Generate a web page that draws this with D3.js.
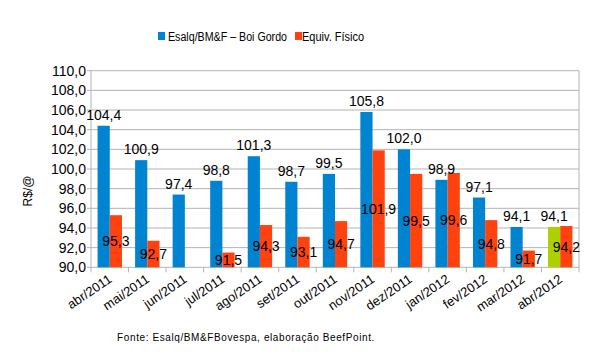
<!DOCTYPE html>
<html><head><meta charset="utf-8">
<script src="https://cdn.jsdelivr.net/npm/d3@7"></script>
<style>body{margin:0;background:#fff}svg{display:block}text{font-family:"Liberation Sans",Arial,sans-serif}</style>
</head><body><svg id="c" width="604" height="363"></svg>
<script>
const categories = ["abr/2011","mai/2011","jun/2011","jul/2011","ago/2011","set/2011","out/2011","nov/2011","dez/2011","jan/2012","fev/2012","mar/2012","abr/2012"];
const boiGordo = [104.4,100.9,97.4,98.8,101.3,98.7,99.5,105.8,102.0,98.9,97.1,94.1,94.1];
const equivFisico = [95.3,92.7,null,91.5,94.3,93.1,94.7,101.9,99.5,99.6,94.8,91.7,94.2];
const yTicks = [90,92,94,96,98,100,102,104,106,108,110];
const seriesNames = ["Esalq/BM&F – Boi Gordo","Equiv. Físico"];

const svg = d3.select("#c");
const L=91, R=579, T=70.7, B=267.3;
const fmt = v => d3.format(".1f")(v).replace(".", ",");
const x = d3.scaleBand().domain(categories).range([L,R]).paddingInner(0).paddingOuter(0);
const y = d3.scaleLinear().domain([90,110]).range([B,T]);
const bw = 12.2;
const blue="#0084d1", orange="#ff420e", green="#aecf00";

// grid
svg.append("g").selectAll("line").data(yTicks).join("line")
  .attr("x1",L-4).attr("x2",R).attr("y1",d=>y(d)).attr("y2",d=>y(d))
  .attr("stroke","#b3b3b3").attr("stroke-width",1);
svg.append("line").attr("x1",L).attr("x2",L).attr("y1",T).attr("y2",B+5).attr("stroke","#b3b3b3");
svg.append("line").attr("x1",R).attr("x2",R).attr("y1",T).attr("y2",B+5).attr("stroke","#b3b3b3");
svg.append("g").selectAll("line").data(categories.slice(1)).join("line")
  .attr("x1",d=>x(d)).attr("x2",d=>x(d)).attr("y1",B).attr("y2",B+5).attr("stroke","#b3b3b3");

// y labels
svg.append("g").selectAll("text").data(yTicks).join("text")
  .attr("x",86).attr("y",d=>y(d)+5).attr("text-anchor","end")
  .attr("font-size",14).attr("fill","#000").text(d=>fmt(d));

svg.append("text").attr("transform","translate(32,191) rotate(-90)")
  .attr("text-anchor","middle").attr("font-size",12).text("R$/@");

// bars
const cx = d => x(d)+x.bandwidth()/2;
svg.append("g").selectAll("rect").data(categories).join("rect")
  .attr("x",d=>cx(d)-bw).attr("width",bw)
  .attr("y",(d,i)=>y(boiGordo[i])).attr("height",(d,i)=>B-y(boiGordo[i]))
  .attr("fill",(d,i)=>i===categories.length-1?green:blue);
svg.append("g").selectAll("rect").data(categories.filter((d,i)=>equivFisico[i]!=null)).join("rect")
  .attr("x",d=>cx(d)).attr("width",bw)
  .attr("y",d=>y(equivFisico[categories.indexOf(d)]))
  .attr("height",d=>B-y(equivFisico[categories.indexOf(d)]))
  .attr("fill",orange);

// labels
svg.append("g").selectAll("text").data(categories).join("text")
  .attr("x",d=>cx(d)-bw/2).attr("y",(d,i)=>y(boiGordo[i])-6)
  .attr("text-anchor","middle").attr("font-size",14).text((d,i)=>fmt(boiGordo[i]));
svg.append("g").selectAll("text").data(categories.filter((d,i)=>equivFisico[i]!=null)).join("text")
  .attr("x",d=>cx(d)+bw/2)
  .attr("y",d=>(y(equivFisico[categories.indexOf(d)])+B)/2+5)
  .attr("text-anchor","middle").attr("font-size",14).text(d=>fmt(equivFisico[categories.indexOf(d)]));

// x labels
svg.append("g").selectAll("text").data(categories).join("text")
  .attr("transform",d=>`translate(${cx(d)+3},${B+14}) rotate(-34)`)
  .attr("text-anchor","end").attr("font-size",13).text(d=>d);

// legend
const lg = svg.append("g");
lg.append("rect").attr("x",158).attr("y",32).attr("width",7).attr("height",8).attr("fill",blue);
lg.append("text").attr("x",168).attr("y",40.5).attr("font-size",12).attr("textLength",119).attr("lengthAdjust","spacingAndGlyphs").text(seriesNames[0]);
lg.append("rect").attr("x",295).attr("y",32).attr("width",7).attr("height",8).attr("fill",orange);
lg.append("text").attr("x",302).attr("y",40.5).attr("font-size",12).attr("textLength",62).attr("lengthAdjust","spacingAndGlyphs").text(seriesNames[1]);

svg.append("text").attr("x",246).attr("y",341).attr("text-anchor","middle")
  .attr("font-size",10).attr("letter-spacing",0.6).text("Fonte: Esalq/BM&FBovespa, elaboração BeefPoint.");
</script></body></html>
